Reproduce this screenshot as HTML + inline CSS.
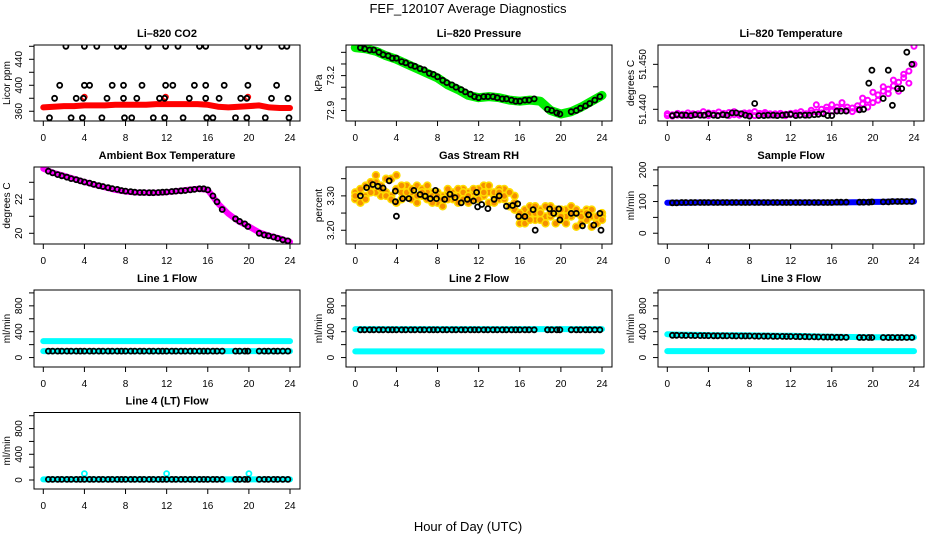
<!DOCTYPE html>
<html><head><meta charset="utf-8"><style>
html,body{margin:0;padding:0;background:#fff;}
svg{display:block;font-family:"Liberation Sans",sans-serif;}
</style></head><body>
<svg id="chart" width="936" height="540" viewBox="0 0 936 540">
<text x="468" y="13" text-anchor="middle" font-size="13">FEF_120107  Average Diagnostics</text>
<text x="468" y="531" text-anchor="middle" font-size="13">Hour of Day (UTC)</text>
</svg>
<script>
// ---- shared data ----
const xTicks = [0,4,8,12,16,20,24];
const bandHours = [0,1,2,3,4,5,6,7,8,9,10,11,12,13,14,15,16,17,18,19,20,21,22,23,24];
const halfHours = [0,0.5,1,1.5,2,2.5,3,3.5,4,4.5,5,5.5,6,6.5,7,7.5,8,8.5,9,9.5,10,10.5,11,11.5,12,12.5,13,13.5,14,14.5,15,15.5,16,16.5,17,17.5,18,18.5,19,19.5,20,20.5,21,21.5,22,22.5,23,23.5,24];
const ptHours = [0.5,0.9,1.4,1.8,2.3,2.7,3.2,3.6,4.0,4.5,4.9,5.4,5.8,6.3,6.7,7.2,7.6,8.0,8.5,8.9,9.4,9.8,10.3,10.7,11.2,11.6,12.0,12.5,12.9,13.4,13.8,14.3,14.7,15.2,15.6,16.0,16.5,16.9,17.4,18.7,19.1,19.6,19.9,21.0,21.5,21.9,22.4,22.8,23.3,23.8];

// CO2
const co2Band = [366,367,368,368,369,369,369,370,370,370,370,371,371,371,371,371,370,367,366,367,368,369,366,365,365];
const co2PtX = [2.2,4.0,5.2,7.2,7.8,10.2,11.9,13.1,15.2,15.8,19.9,21.0,23.2,23.7, 1.6,4.0,4.5,6.7,7.8,9.6,11.9,12.6,14.7,15.8,17.6,19.9,22.7, 1.1,3.2,3.9,6.2,7.8,9.1,11.3,11.8,14.2,15.8,17.1,19.2,19.8,22.2,23.8, 0.6,2.7,3.8,5.7,7.9,8.6,10.7,11.8,13.6,15.9,16.5,18.7,19.8,21.6,23.9];
const co2PtY = [460,460,460,460,460,460,460,460,460,460,460,460,460,460, 400,400,400,400,400,400,400,400,400,400,400,400,400, 380,380,380,380,380,380,380,380,380,380,380,380,380,380,380, 350,350,350,350,350,350,350,350,350,350,350,350,350,350,350];
const co2RedOutX = [4.0,11.9,19.9];
const co2RedOutY = [382,382,382];

// Pressure
const presBand = [73.44,73.43,73.41,73.37,73.34,73.30,73.26,73.22,73.18,73.12,73.08,73.03,73.01,73.02,73.01,72.99,72.98,72.99,72.98,72.90,72.87,72.89,72.93,72.98,73.03];
const presPt = [73.44,73.43,73.42,73.42,73.40,73.38,73.37,73.35,73.35,73.32,73.31,73.29,73.28,73.26,73.25,73.22,73.21,73.19,73.16,73.14,73.12,73.10,73.08,73.06,73.04,73.02,73.01,73.02,73.02,73.02,73.01,73.00,73.00,72.99,72.98,72.98,72.99,72.99,73.00,72.91,72.90,72.88,72.87,72.89,72.90,72.92,72.94,72.96,72.99,73.02];

// Li-820 temperature
const tempA = [51.4386,51.4388,51.4387,51.4389,51.4386,51.4390,51.4388,51.4387,51.4392,51.4388,51.4387,51.4391,51.4393,51.4388,51.4390,51.4389,51.4392,51.4395,51.4388,51.4389,51.4387,51.4390,51.4388,51.4389,51.4391,51.4389,51.4388,51.4390,51.4392,51.4394,51.4400,51.4398,51.4396,51.4405,51.4402,51.4398,51.4403,51.4408,51.4412,51.4420,51.4415,51.4432,51.4440,51.4445,51.4452,51.4460,51.4470,51.4485,51.4500];
const tempB = [51.4390,51.4385,51.4391,51.4386,51.4392,51.4387,51.4390,51.4395,51.4386,51.4391,51.4394,51.4388,51.4386,51.4395,51.4387,51.4392,51.4388,51.4386,51.4391,51.4393,51.4390,51.4387,51.4391,51.4386,51.4388,51.4392,51.4395,51.4387,51.4398,51.4410,51.4392,51.4405,51.4410,51.4398,51.4415,51.4405,51.4395,51.4400,51.4425,51.4405,51.4438,51.4420,51.4450,51.4435,51.4465,51.4440,51.4478,51.4458,51.4540];
const tempPtY = [51.4386,51.4388,51.4387,51.4387,51.4386,51.4388,51.4387,51.4387,51.4390,51.4387,51.4386,51.4388,51.4387,51.4392,51.4392,51.4390,51.4387,51.4385,51.4413,51.4386,51.4386,51.4387,51.4387,51.4386,51.4387,51.4388,51.4389,51.4386,51.4387,51.4387,51.4387,51.4388,51.4389,51.4390,51.4386,51.4386,51.4396,51.4396,51.4396,51.4399,51.4400,51.4458,51.4487,51.4424,51.4487,51.4409,51.4446,51.4446,51.4527,51.4500];

// Ambient box temperature
const ambBand = [23.8,23.55,23.38,23.2,23.02,22.85,22.7,22.55,22.45,22.4,22.38,22.38,22.42,22.48,22.55,22.62,22.55,21.75,21.15,20.7,20.4,20.05,19.85,19.7,19.5];
const ambPt = [23.65,23.55,23.45,23.38,23.30,23.22,23.15,23.08,23.02,22.95,22.88,22.80,22.75,22.68,22.63,22.58,22.52,22.48,22.45,22.42,22.40,22.40,22.39,22.39,22.40,22.42,22.43,22.46,22.48,22.50,22.52,22.55,22.58,22.62,22.62,22.55,22.2,21.85,21.4,20.85,20.7,20.55,20.4,20.0,19.9,19.85,19.78,19.7,19.62,19.55];

// Gas stream RH
const rhA = [3.29,3.31,3.33,3.32,3.34,3.30,3.31,3.35,3.32,3.29,3.30,3.31,3.33,3.30,3.29,3.31,3.28,3.30,3.31,3.29,3.30,3.32,3.31,3.29,3.30,3.33,3.31,3.30,3.29,3.32,3.31,3.30,3.24,3.26,3.25,3.23,3.26,3.24,3.27,3.25,3.23,3.26,3.24,3.25,3.22,3.26,3.24,3.23,3.25];
const rhB = [3.31,3.28,3.30,3.34,3.31,3.33,3.35,3.30,3.28,3.31,3.33,3.29,3.30,3.32,3.31,3.28,3.31,3.27,3.29,3.31,3.32,3.29,3.28,3.31,3.32,3.30,3.28,3.31,3.32,3.29,3.27,3.28,3.22,3.24,3.27,3.25,3.23,3.27,3.24,3.22,3.26,3.24,3.27,3.21,3.25,3.23,3.26,3.22,3.24];
const rhC = [3.30,3.32,3.29,3.31,3.36,3.32,3.30,3.29,3.36,3.33,3.31,3.32,3.28,3.31,3.33,3.30,3.30,3.29,3.32,3.30,3.28,3.31,3.30,3.32,3.29,3.31,3.33,3.28,3.31,3.30,3.31,3.26,3.25,3.22,3.23,3.27,3.25,3.22,3.25,3.26,3.24,3.22,3.25,3.26,3.24,3.25,3.21,3.24,3.23];
const rhPtX = [0.5,1.1,1.7,2.2,2.7,3.3,3.9,3.9,4.0,4.6,5.2,5.7,6.3,6.8,7.3,7.8,7.9,8.7,9.2,9.7,10.3,10.9,11.5,11.8,11.9,12.3,12.9,13.5,14.0,14.7,15.3,15.8,15.9,16.5,17.3,17.5,18.9,19.3,19.8,19.9,21.0,21.5,22.1,22.7,23.2,23.8,23.9];
const rhPtY = [3.300,3.324,3.333,3.328,3.323,3.344,3.314,3.283,3.241,3.292,3.292,3.316,3.304,3.299,3.292,3.316,3.292,3.290,3.305,3.295,3.280,3.290,3.285,3.310,3.268,3.275,3.263,3.290,3.300,3.270,3.272,3.277,3.240,3.240,3.260,3.200,3.262,3.249,3.262,3.230,3.249,3.249,3.213,3.245,3.215,3.249,3.200];

// Sample flow
const sampBand = [96,96,96,97,97,97,97,97,97,97,97,97,97,97,97,97,97,97,98,98,99,99,100,100,100];
const sampPt = [96,96,97,97,97,97,97,97,97,97,97,97,97,97,97,97,97,97,97,97,97,97,97,97,97,97,97,97,97,97,97,97,97,97,97,97,98,98,98,98,98,98,99,99,99,100,100,100,100,100];

// Line flows
const l1Upper = [255,255,255,255,255,255,255,255,255,255,255,255,255,255,255,255,255,255,255,255,255,255,255,255,255];
const l1Lower = [100,100,100,100,100,100,100,100,100,100,100,100,100,100,100,100,100,100,100,100,100,100,100,100,100];
const l1Pt = [100,100,100,100,100,100,100,100,100,100,100,100,100,100,100,100,100,100,100,100,100,100,100,100,100,100,100,100,100,100,100,100,100,100,100,100,100,100,100,100,100,100,100,100,100,100,100,100,100,100];
const l2Upper = [440,440,440,440,440,440,440,440,440,440,440,440,440,440,440,440,440,440,440,440,440,440,440,440,440];
const l2Lower = [95,95,95,95,95,95,95,95,95,95,95,95,95,95,95,95,95,95,95,95,95,95,95,95,95];
const l2Pt = [430,430,430,430,430,430,430,430,430,430,430,430,430,430,430,430,430,430,430,430,430,430,430,430,430,430,430,430,430,430,430,430,430,430,430,430,430,430,430,430,430,430,430,430,430,430,430,430,430,430];
const l3Upper = [360,355,352,350,348,346,345,344,343,342,340,338,336,334,330,325,322,320,318,316,315,314,313,312,312];
const l3Lower = [100,100,100,100,100,100,100,100,100,100,100,100,100,100,100,100,100,100,100,100,100,100,100,100,100];
const l3Pt = [345,344,343,342,341,340,340,339,338,337,336,336,335,335,334,334,333,333,332,331,330,330,329,328,327,326,325,324,323,322,320,319,318,317,316,315,314,313,312,311,311,310,310,310,310,310,310,310,310,310];
const l4Band = [10,10,10,10,10,10,10,10,10,10,10,10,10,10,10,10,10,10,10,10,10,10,10,10,10];
const l4OutX = [4,12,20];
const l4OutY = [100,100,100];
const l4Pt = [10,10,10,10,10,10,10,10,10,10,10,10,10,10,10,10,10,10,10,10,10,10,10,10,10,10,10,10,10,10,10,10,10,10,10,10,10,10,10,10,10,10,10,10,10,10,10,10,10,10];

// ---- layout ----
const NS = "http://www.w3.org/2000/svg";
const svg = document.getElementById('chart');
const rowTop = [45,167,290,412.5];
const rowH = [76,77,77,76.5];
function mk(tag, attrs, parent){
  const e = document.createElementNS(NS, tag);
  for (const k in attrs) e.setAttribute(k, attrs[k]);
  (parent||svg).appendChild(e);
  return e;
}
function makePanel(cfg){
  const g = mk('g', {});
  
  
  const L = 34 + 312*cfg.col, T = rowTop[cfg.row], H = rowH[cfg.row], W = 266;
  const sx = h => L + 9.3 + h*(246.7/24);
  const sy = v => T + H - (v - cfg.ymin)/(cfg.ymax - cfg.ymin)*H;
  const clip = mk('clipPath', {id:'clip-'+cfg.name}, g);
  mk('rect', {x:L, y:T, width:W, height:H}, clip);
  const dg = mk('g', {'clip-path':'url(#clip-'+cfg.name+')'}, g);
  
  
  const t = mk('text', {x:L+W/2, y:T-8, 'text-anchor':'middle', 'font-size':11, 'font-weight':'bold'}, g);
  t.textContent = cfg.title;
  
  
  const b = mk('rect', {x:L, y:T, width:W, height:H, fill:'none', stroke:'#000', 'stroke-width':1}, g);
  
  
  xTicks.forEach(h=>{
    mk('line', {x1:sx(h), x2:sx(h), y1:T+H, y2:T+H+5, stroke:'#000'}, g);
    const lt = mk('text', {x:sx(h), y:T+H+20, 'text-anchor':'middle', 'font-size':10}, g);
    lt.textContent = h;
    
    
  });
  mk('line', {x1:sx(0), x2:sx(24), y1:T+H, y2:T+H, stroke:'#000'}, g);
  cfg.yTicks.forEach(v=>{ mk('line', {x1:L-5, x2:L, y1:sy(v), y2:sy(v), stroke:'#000'}, g); });
  mk('line', {x1:L, x2:L, y1:sy(cfg.yTicks[0]), y2:sy(cfg.yTicks[cfg.yTicks.length-1]), stroke:'#000'}, g);
  cfg.yLabels.forEach((s,i)=>{
    const v = cfg.yLabelVals[i];
    const yt = mk('text', {x:0, y:0, 'text-anchor':'middle', 'font-size':10, transform:`translate(${L-12},${sy(v)}) rotate(-90)`}, g);
    yt.textContent = s;
    
    
  });
  const yl = mk('text', {x:0, y:0, 'text-anchor':'middle', 'font-size':10, transform:`translate(${L-24},${T+H/2}) rotate(-90)`}, g);
  yl.textContent = cfg.ylab;
  
  
  return {g:dg, sx, sy};
}
function band(p, xs, ys, color, w, name){
  const pts = xs.map((h,i)=>p.sx(h).toFixed(1)+','+p.sy(ys[i]).toFixed(1)).join(' ');
  const pl = mk('polyline', {points:pts, fill:'none', stroke:color, 'stroke-width':w, 'stroke-linejoin':'round', 'stroke-linecap':'round'}, p.g);
  
  
}
function circles(p, xs, ys, stroke, fill, r, sw, name){
  xs.forEach((h,i)=>{
    const c = mk('circle', {cx:p.sx(h).toFixed(1), cy:p.sy(ys[i]).toFixed(1), r:r, fill:fill, stroke:stroke, 'stroke-width':sw}, p.g);
    
    
  });
}
const flowTicks = [0,200,400,600,800,1000];
const flowLabels = ['0','400','800'];
const flowLabelVals = [0,400,800];
const BW = 1.8;

let p = makePanel({name:'co2', title:'Li\u2013820 CO2', col:0,row:0, ymin:345, ymax:462, yTicks:[360,380,400,420,440,460], yLabels:['360','400','440'], yLabelVals:[360,400,440], ylab:'Licor ppm'});
band(p, bandHours, co2Band, '#ff0000', 6, 'co2-band');
circles(p, co2RedOutX, co2RedOutY, '#ff0000', 'none', 2.5, 1.5, 'co2-red-point');
circles(p, co2PtX, co2PtY, '#000', 'none', 2.5, BW, 'co2-point');

p = makePanel({name:'pressure', title:'Li\u2013820 Pressure', col:1,row:0, ymin:72.81, ymax:73.463, yTicks:[72.9,73.0,73.1,73.2,73.3,73.4], yLabels:['72.9','73.2'], yLabelVals:[72.9,73.2], ylab:'kPa'});
band(p, bandHours, presBand, '#00ee00', 9, 'pressure-band');
circles(p, ptHours, presPt, '#000', 'none', 2.5, BW, 'pressure-point');

p = makePanel({name:'li820-temp', title:'Li\u2013820 Temperature', col:2,row:0, ymin:51.4374, ymax:51.4543, yTicks:[51.440,51.445,51.450], yLabels:['51.440','51.450'], yLabelVals:[51.440,51.450], ylab:'degrees C'});
circles(p, halfHours, tempA, '#ff00ff', 'none', 2.5, 2, 'temp-point-magenta');
circles(p, halfHours, tempB, '#ff00ff', 'none', 2.5, 2, 'temp-point-magenta');
circles(p, ptHours, tempPtY, '#000', 'none', 2.5, BW, 'temp-point');

p = makePanel({name:'ambient', title:'Ambient Box Temperature', col:0,row:1, ymin:19.37, ymax:23.9, yTicks:[20,21,22,23], yLabels:['20','22'], yLabelVals:[20,22], ylab:'degrees C'});
band(p, bandHours, ambBand, '#ff00ff', 6, 'ambient-band');
circles(p, ptHours, ambPt, '#000', 'none', 2.5, BW, 'ambient-point');

p = makePanel({name:'rh', title:'Gas Stream RH', col:1,row:1, ymin:3.16, ymax:3.384, yTicks:[3.20,3.25,3.30,3.35], yLabels:['3.20','3.30'], yLabelVals:[3.20,3.30], ylab:'percent'});
circles(p, halfHours, rhA, '#ffdd00', '#f59000', 3.5, 1.5, 'rh-point-orange');
circles(p, halfHours, rhB, '#ffdd00', '#f59000', 3.5, 1.5, 'rh-point-orange');
circles(p, halfHours, rhC, '#ffdd00', '#f59000', 3.5, 1.5, 'rh-point-orange');
circles(p, rhPtX, rhPtY, '#000', 'none', 2.5, BW, 'rh-point');

p = makePanel({name:'sample-flow', title:'Sample Flow', col:2,row:1, ymin:-34, ymax:209, yTicks:[0,50,100,150,200], yLabels:['0','100','200'], yLabelVals:[0,100,200], ylab:'ml/min'});
band(p, bandHours, sampBand, '#0000ff', 6, 'sample-band');
circles(p, ptHours, sampPt, '#000', 'none', 2.5, BW, 'sample-point');

p = makePanel({name:'line1', title:'Line 1 Flow', col:0,row:2, ymin:-146, ymax:1045, yTicks:flowTicks, yLabels:flowLabels, yLabelVals:flowLabelVals, ylab:'ml/min'});
band(p, bandHours, l1Upper, '#00ffff', 6, 'line1-upper-band');
band(p, bandHours, l1Lower, '#00ffff', 6, 'line1-lower-band');
circles(p, ptHours, l1Pt, '#000', 'none', 2.5, BW, 'line1-point');

p = makePanel({name:'line2', title:'Line 2 Flow', col:1,row:2, ymin:-146, ymax:1045, yTicks:flowTicks, yLabels:flowLabels, yLabelVals:flowLabelVals, ylab:'ml/min'});
band(p, bandHours, l2Upper, '#00ffff', 6, 'line2-upper-band');
band(p, bandHours, l2Lower, '#00ffff', 6, 'line2-lower-band');
circles(p, ptHours, l2Pt, '#000', 'none', 2.5, BW, 'line2-point');

p = makePanel({name:'line3', title:'Line 3 Flow', col:2,row:2, ymin:-146, ymax:1045, yTicks:flowTicks, yLabels:flowLabels, yLabelVals:flowLabelVals, ylab:'ml/min'});
band(p, bandHours, l3Upper, '#00ffff', 6, 'line3-upper-band');
band(p, bandHours, l3Lower, '#00ffff', 6, 'line3-lower-band');
circles(p, ptHours, l3Pt, '#000', 'none', 2.5, BW, 'line3-point');

p = makePanel({name:'line4', title:'Line 4 (LT) Flow', col:0,row:3, ymin:-140, ymax:1050, yTicks:flowTicks, yLabels:flowLabels, yLabelVals:flowLabelVals, ylab:'ml/min'});
band(p, bandHours, l4Band, '#00ffff', 6, 'line4-band');
circles(p, l4OutX, l4OutY, '#00ffff', 'none', 2.5, 1.8, 'line4-outlier');
circles(p, ptHours, l4Pt, '#000', 'none', 2.5, BW, 'line4-point');
</script>
</body></html>
